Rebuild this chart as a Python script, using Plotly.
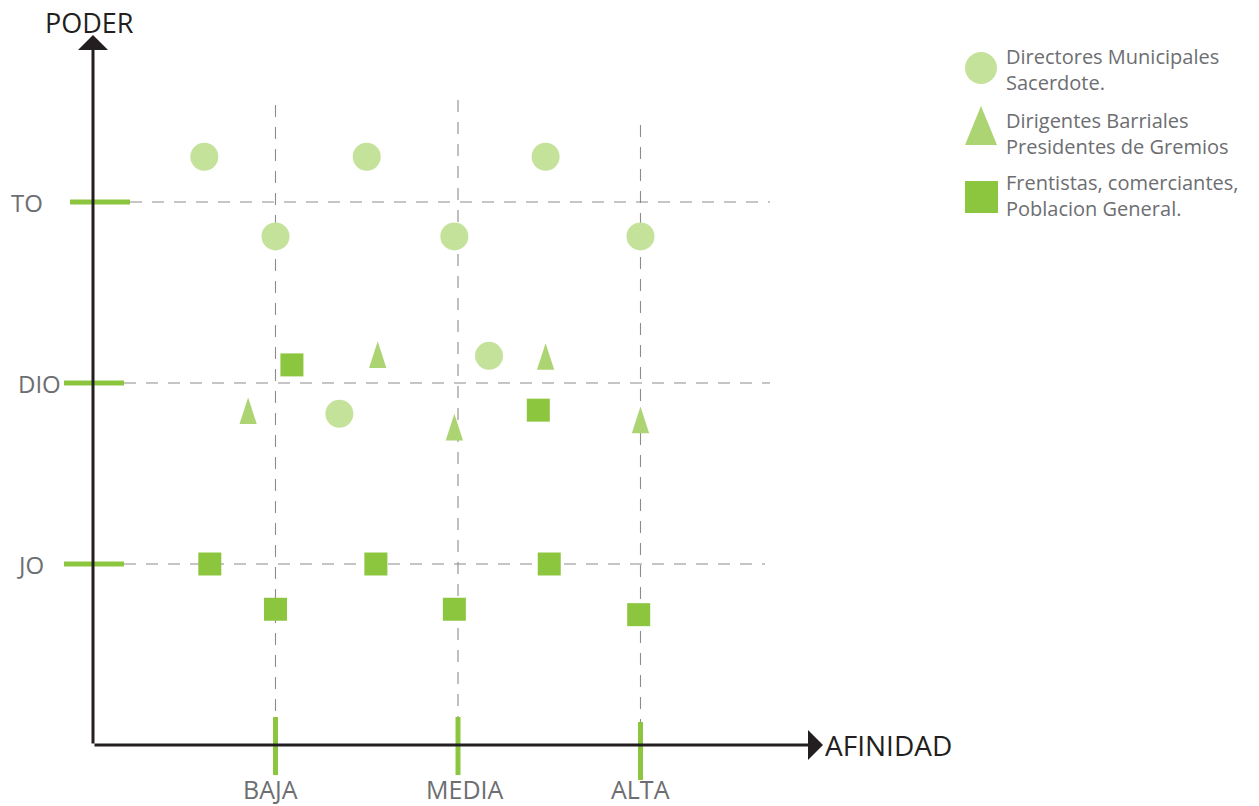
import plotly.graph_objects as go

# ---------------- data ----------------
x_levels = ["BAJA", "MEDIA", "ALTA"]
x_level_vals = [1, 2, 3]
y_levels = ["JO", "DIO", "TO"]          # BAJO / MEDIO / ALTO (cut off in the original)
y_level_vals = [1, 2, 3]

series_names = ["Directores Municipales<br>Sacerdote.",
                "Dirigentes Barriales<br>Presidentes de Gremios",
                "Frentistas, comerciantes,<br>Poblacion General."]

directores_x = [0.61, 1.50, 2.48, 1.00, 1.98, 3.00, 2.17, 1.35]
directores_y = [3.25, 3.25, 3.25, 2.81, 2.81, 2.81, 2.15, 1.83]

dirigentes_x = [1.56, 2.48, 0.85, 1.98, 3.00]
dirigentes_y = [2.23, 2.22, 1.92, 1.83, 1.87]   # apex of each triangle

frentistas_x = [1.09, 2.44, 0.64, 1.55, 2.50, 1.00, 1.98, 2.99]
frentistas_y = [2.10, 1.85, 1.00, 1.00, 1.00, 0.75, 0.75, 0.72]

# ---------------- styling / layout helpers ----------------
W, H = 1259, 806
OX, OY = 93.0, 745.0        # pixel position of origin
SX, SY = 182.5, 181.0       # pixels per unit

def px2x(p):
    return (p - OX) / SX

def px2y(p):
    return (OY - p) / SY

C_CIRCLE = "#c5e29b"
C_TRI = "#acd472"
C_SQ = "#8cc63f"
C_AXIS = "#231f20"
C_TEXT = "#6d6e71"
C_GRID = "#8c8c8c"
FONT = "Open Sans"
DASH = "12px,10px"

fig = go.Figure()

fig.add_trace(go.Scatter(x=directores_x, y=directores_y, mode="markers",
                         name=series_names[0], showlegend=False,
                         marker=dict(symbol="circle", size=28, color=C_CIRCLE, line=dict(width=0))))
fig.add_trace(go.Scatter(x=dirigentes_x, y=dirigentes_y, mode="markers",
                         name=series_names[1], showlegend=False,
                         marker=dict(symbol="arrow", size=28, color=C_TRI, line=dict(width=0))))
fig.add_trace(go.Scatter(x=frentistas_x, y=frentistas_y, mode="markers",
                         name=series_names[2], showlegend=False,
                         marker=dict(symbol="square", size=23, color=C_SQ, line=dict(width=0))))

shapes = []
# dashed guide lines
h_extent = {1: (124, 765), 2: (124, 770), 3: (130, 770)}
for v in y_level_vals:
    a, b = h_extent[v]
    shapes.append(dict(type="line", xref="x", yref="y", x0=px2x(a), x1=px2x(b), y0=v, y1=v,
                       line=dict(color=C_GRID, width=1.1, dash=DASH), layer="below"))
v_extent = {1: (105, 717), 2: (100, 717), 3: (125, 722)}
for v in x_level_vals:
    a, b = v_extent[v]
    shapes.append(dict(type="line", xref="x", yref="y", x0=v, x1=v, y0=px2y(a), y1=px2y(b),
                       line=dict(color=C_GRID, width=1.1, dash=DASH), layer="below"))
# green tick bars on y axis
y_tick_ext = {1: (64, 124), 2: (64, 124), 3: (70, 130)}
for v in y_level_vals:
    a, b = y_tick_ext[v]
    shapes.append(dict(type="line", xref="x", yref="y", x0=px2x(a), x1=px2x(b), y0=v, y1=v,
                       line=dict(color=C_SQ, width=5), layer="above"))
# green tick bars on x axis
x_tick_ext = {1: (717, 775), 2: (717, 775), 3: (722, 780)}
for v in x_level_vals:
    a, b = x_tick_ext[v]
    shapes.append(dict(type="line", xref="x", yref="y", x0=v, x1=v, y0=px2y(a), y1=px2y(b),
                       line=dict(color=C_SQ, width=5), layer="above"))

# legend symbols
shapes.append(dict(type="circle", xref="x", yref="y", x0=px2x(965), x1=px2x(997),
                   y0=px2y(84), y1=px2y(52), fillcolor=C_CIRCLE, line=dict(width=0)))
shapes.append(dict(type="path", xref="x", yref="y",
                   path=f"M {px2x(965)},{px2y(145)} L {px2x(997)},{px2y(145)} L {px2x(981)},{px2y(106)} Z",
                   fillcolor=C_TRI, line=dict(width=0)))
shapes.append(dict(type="rect", xref="x", yref="y", x0=px2x(965), x1=px2x(998),
                   y0=px2y(213), y1=px2y(181), fillcolor=C_SQ, line=dict(width=0)))

annotations = []
# axes as arrows
annotations.append(dict(x=0, y=px2y(35), ax=0, ay=0, xref="x", yref="y", axref="x", ayref="y",
                        text="", showarrow=True, arrowhead=1, arrowsize=1.67, arrowwidth=3,
                        arrowcolor=C_AXIS))
annotations.append(dict(x=px2x(823), y=0, ax=0, ay=0, xref="x", yref="y", axref="x", ayref="y",
                        text="", showarrow=True, arrowhead=1, arrowsize=1.67, arrowwidth=3,
                        arrowcolor=C_AXIS))
# axis titles
annotations.append(dict(x=px2x(89), y=px2y(22), xref="x", yref="y", text="PODER", showarrow=False,
                        font=dict(family=FONT, size=27, color=C_AXIS), xanchor="center", yanchor="middle"))
annotations.append(dict(x=px2x(823), y=0, xref="x", yref="y", text="AFINIDAD", showarrow=False,
                        font=dict(family=FONT, size=28, color=C_AXIS), xanchor="left", yanchor="middle"))
# level labels
x_label_shift = {1: -5, 2: 6, 3: 0}
for v, t in zip(x_level_vals, x_levels):
    annotations.append(dict(x=v, y=px2y(789), xref="x", yref="y", text=t, showarrow=False,
                            xshift=x_label_shift[v],
                            font=dict(family=FONT, size=25, color=C_TEXT), xanchor="center", yanchor="middle"))
y_label_right = {1: 46, 2: 63, 3: 45}
for v, t in zip(y_level_vals, y_levels):
    annotations.append(dict(x=px2x(y_label_right[v]), y=v, xref="x", yref="y", text=t, showarrow=False,
                            font=dict(family=FONT, size=24, color=C_TEXT), xanchor="right", yanchor="middle"))
# legend text
for name, py in zip(series_names, [69, 133, 195]):
    annotations.append(dict(x=px2x(1004), y=px2y(py), xref="x", yref="y", text=name, showarrow=False,
                            align="left", font=dict(family=FONT, size=20, color=C_TEXT),
                            xanchor="left", yanchor="middle"))

fig.update_layout(
    width=W, height=H,
    margin=dict(l=0, r=0, t=0, b=0),
    paper_bgcolor="white", plot_bgcolor="white",
    xaxis=dict(range=[px2x(0), px2x(W)], visible=False, fixedrange=True),
    yaxis=dict(range=[px2y(H), px2y(0)], visible=False, fixedrange=True),
    shapes=shapes, annotations=annotations, showlegend=False,
)

fig.write_html("out.html", config={"displayModeBar": False},
               post_script="document.body.style.margin='0';document.body.style.overflow='hidden';")
